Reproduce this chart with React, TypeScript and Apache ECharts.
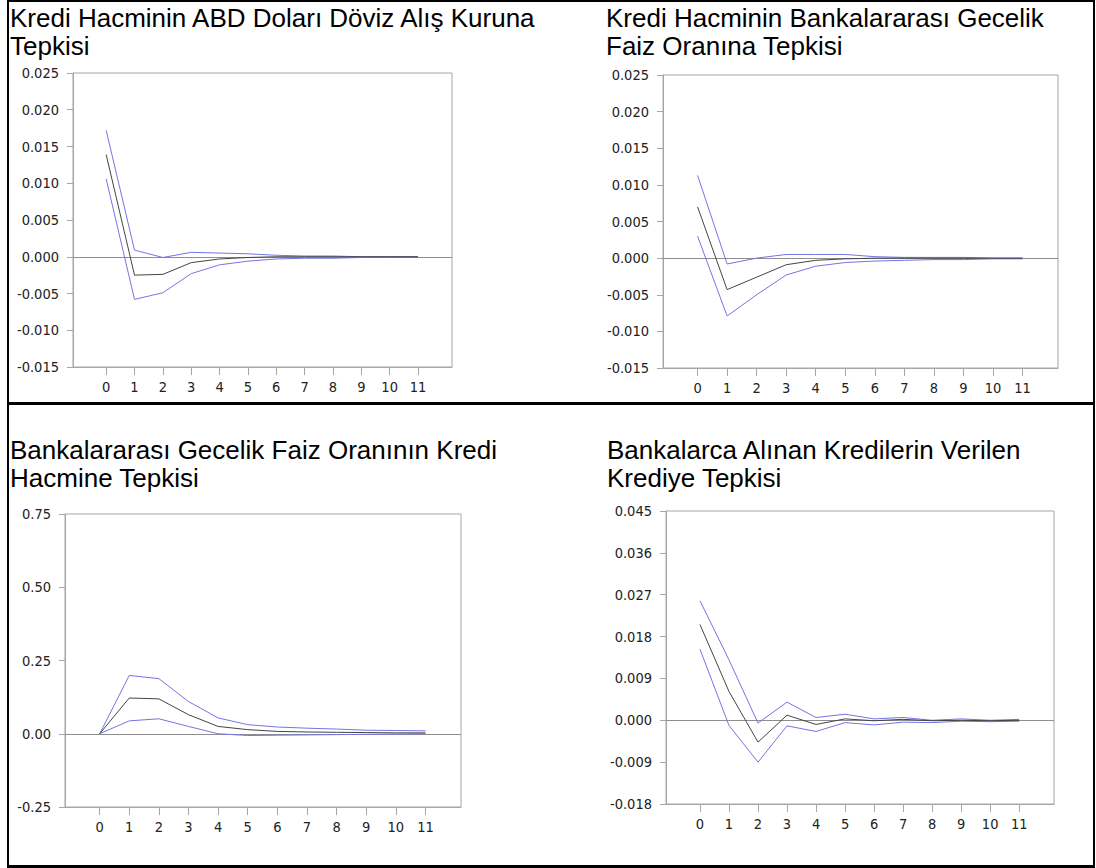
import React, { useEffect, useRef } from "react";
import * as echarts from "echarts";

// Impulse response horizons
const periods = [0, 1, 2, 3, 4, 5, 6, 7, 8, 9, 10, 11];

// Kredi hacminin ABD doları döviz alış kuruna tepkisi
const upper1 = [0.0172, 0.0009, -0.0001, 0.0006, 0.0005, 0.0004, 0.0002, 0.0001, 0.0001, 0.0, 0.0, 0.0];
const mid1 = [0.0139, -0.0025, -0.0024, -0.0008, -0.0003, -0.0001, 0.0, 0.0, 0.0, 0.0, 0.0, 0.0];
const lower1 = [0.0106, -0.0058, -0.0049, -0.0023, -0.0011, -0.0006, -0.0003, -0.0002, -0.0002, -0.0001, -0.0001, -0.0001];

// Kredi hacminin bankalararası gecelik faiz oranına tepkisi
const upper2 = [0.0113, -0.0008, 0.0, 0.0005, 0.0005, 0.0005, 0.0002, 0.0001, 0.0001, 0.0001, 0.0, 0.0];
const mid2 = [0.007, -0.0043, -0.0026, -0.0009, -0.0003, -0.0001, 0.0, 0.0, 0.0, 0.0, 0.0, 0.0];
const lower2 = [0.003, -0.0079, -0.005, -0.0023, -0.0011, -0.0006, -0.0004, -0.0003, -0.0002, -0.0002, -0.0001, -0.0001];

// Bankalararası gecelik faiz oranının kredi hacmine tepkisi
const upper3 = [0.0, 0.199, 0.188, 0.11, 0.054, 0.031, 0.023, 0.019, 0.016, 0.012, 0.011, 0.01];
const mid3 = [0.0, 0.122, 0.119, 0.065, 0.025, 0.014, 0.008, 0.006, 0.005, 0.004, 0.003, 0.003];
const lower3 = [0.0, 0.044, 0.051, 0.025, 0.0, -0.006, -0.005, -0.004, -0.003, -0.002, -0.001, 0.0];

// Bankalarca alınan kredilerin verilen krediye tepkisi
const upper4 = [0.0257, 0.013, -0.0006, 0.0039, 0.0006, 0.0013, 0.0003, 0.0006, 0.0, 0.0003, 0.0, 0.0002];
const mid4 = [0.0206, 0.0062, -0.0047, 0.0011, -0.0009, 0.0003, -0.0001, 0.0002, -0.0001, 0.0, -0.0001, 0.0];
const lower4 = [0.0153, -0.0011, -0.009, -0.0012, -0.0024, -0.0005, -0.001, -0.0004, -0.0005, -0.0002, -0.0003, -0.0002];

// Panel titles (two lines each)
const titles = [
  ["Kredi Hacminin ABD Doları Döviz Alış Kuruna", "Tepkisi"],
  ["Kredi Hacminin Bankalararası Gecelik", "Faiz Oranına Tepkisi"],
  ["Bankalararası Gecelik Faiz Oranının Kredi", "Hacmine Tepkisi"],
  ["Bankalarca Alınan Kredilerin Verilen", "Krediye Tepkisi"],
];

// Value-axis settings per panel
const yMin = [-0.015, -0.015, -0.25, -0.018];
const yMax = [0.025, 0.025, 0.75, 0.045];
const yStep = [0.005, 0.005, 0.25, 0.009];
const yDecimals = [3, 3, 2, 3];

const panels = [
  [upper1, mid1, lower1],
  [upper2, mid2, lower2],
  [upper3, mid3, lower3],
  [upper4, mid4, lower4],
];

// Layout of the four plot areas and their titles
const grids = [
  { left: 73, top: 73, width: 379, height: 294 },
  { left: 663, top: 75, width: 395, height: 293 },
  { left: 65, top: 514, width: 396, height: 293 },
  { left: 666, top: 511, width: 388, height: 293 },
];
const titlePos = [
  { x: 10, y1: 18, y2: 46 },
  { x: 606, y1: 18, y2: 46 },
  { x: 10, y1: 450, y2: 478 },
  { x: 607, y1: 450, y2: 478 },
];

const AXIS_GRAY = "#a6a6a6";
const BAND_BLUE = "#7474e6";
const MID_DARK = "#444";
const LABEL_FONT = "'Liberation Sans Narrow', 'Arial Narrow', 'DejaVu Sans Condensed', sans-serif";
const LABEL_SIZE = 14.5;
const TITLE_FONT = "'Liberation Sans', Arial, Helvetica, sans-serif";

export default function App() {
  const ref = useRef<HTMLDivElement>(null);

  useEffect(() => {
    if (!ref.current) return;
    const chart = echarts.init(ref.current, undefined, { renderer: "svg" });

    const xAxes = grids.map((_, i) => ({
      type: "value",
      gridIndex: i,
      min: -1.17,
      max: 12.2,
      axisLine: { show: true, onZero: false, lineStyle: { color: AXIS_GRAY, width: 1 } },
      axisTick: {
        show: true,
        customValues: periods,
        length: 8,
        lineStyle: { color: AXIS_GRAY, width: 1 },
      },
      axisLabel: {
        show: true,
        customValues: periods,
        formatter: (v: number) => String(Math.round(v)),
        margin: 12,
        fontSize: LABEL_SIZE,
        fontFamily: LABEL_FONT,
        color: "#222",
      },
      splitLine: { show: false },
    }));

    const yAxes = grids.map((_, i) => ({
      type: "value",
      gridIndex: i,
      min: yMin[i],
      max: yMax[i],
      interval: yStep[i],
      axisLine: { show: true, onZero: false, lineStyle: { color: AXIS_GRAY, width: 1 } },
      axisTick: { show: true, length: 6, lineStyle: { color: AXIS_GRAY, width: 1 } },
      axisLabel: {
        show: true,
        formatter: (v: number) =>
          Math.abs(v) < 1e-12 ? (0).toFixed(yDecimals[i]) : v.toFixed(yDecimals[i]),
        margin: 14,
        fontSize: LABEL_SIZE,
        fontFamily: LABEL_FONT,
        color: "#222",
      },
      splitLine: { show: false },
    }));

    const series: any[] = [];
    panels.forEach((set, i) => {
      const colors = [BAND_BLUE, MID_DARK, BAND_BLUE];
      set.forEach((arr, k) => {
        series.push({
          type: "line",
          xAxisIndex: i,
          yAxisIndex: i,
          data: periods.map((p, j) => [p, arr[j]]),
          symbol: "none",
          lineStyle: { color: colors[k], width: 1 },
          itemStyle: { color: colors[k] },
          z: k === 1 ? 4 : 3,
          silent: true,
          markLine:
            k === 0
              ? {
                  silent: true,
                  symbol: ["none", "none"],
                  label: { show: false },
                  lineStyle: { color: "#8e8e8e", type: "solid", width: 1 },
                  data: [{ yAxis: 0 }],
                  z: 2,
                }
              : undefined,
        });
      });
    });

    const graphics: any[] = [];
    titles.forEach((lines, i) => {
      const p = titlePos[i];
      [p.y1, p.y2].forEach((y, k) => {
        graphics.push({
          type: "text",
          x: p.x,
          y,
          style: {
            text: lines[k],
            fontSize: 26,
            fontFamily: TITLE_FONT,
            fill: "#000",
            align: "left",
            verticalAlign: "middle",
          },
        });
      });
    });
    // Table frame and row divider
    const frame = [
      { x: 7, y: 0, width: 2, height: 868 },
      { x: 1093, y: 0, width: 2, height: 868 },
      { x: 7, y: 0, width: 1088, height: 2 },
      { x: 7, y: 402, width: 1088, height: 3 },
      { x: 7, y: 865, width: 1088, height: 3 },
    ];
    frame.forEach((s) => {
      graphics.push({ type: "rect", shape: s, style: { fill: "#000" }, silent: true });
    });

    chart.setOption({
      animation: false,
      backgroundColor: "#fff",
      textStyle: { fontFamily: TITLE_FONT },
      grid: grids.map((g) => ({
        ...g,
        show: true,
        borderColor: AXIS_GRAY,
        borderWidth: 1,
        backgroundColor: "transparent",
        containLabel: false,
      })),
      xAxis: xAxes,
      yAxis: yAxes,
      series,
      graphic: graphics,
    });

    return () => chart.dispose();
  }, []);

  return (
    <div
      ref={ref}
      style={{ position: "absolute", left: 0, top: 0, width: 1096, height: 868 }}
    />
  );
}
